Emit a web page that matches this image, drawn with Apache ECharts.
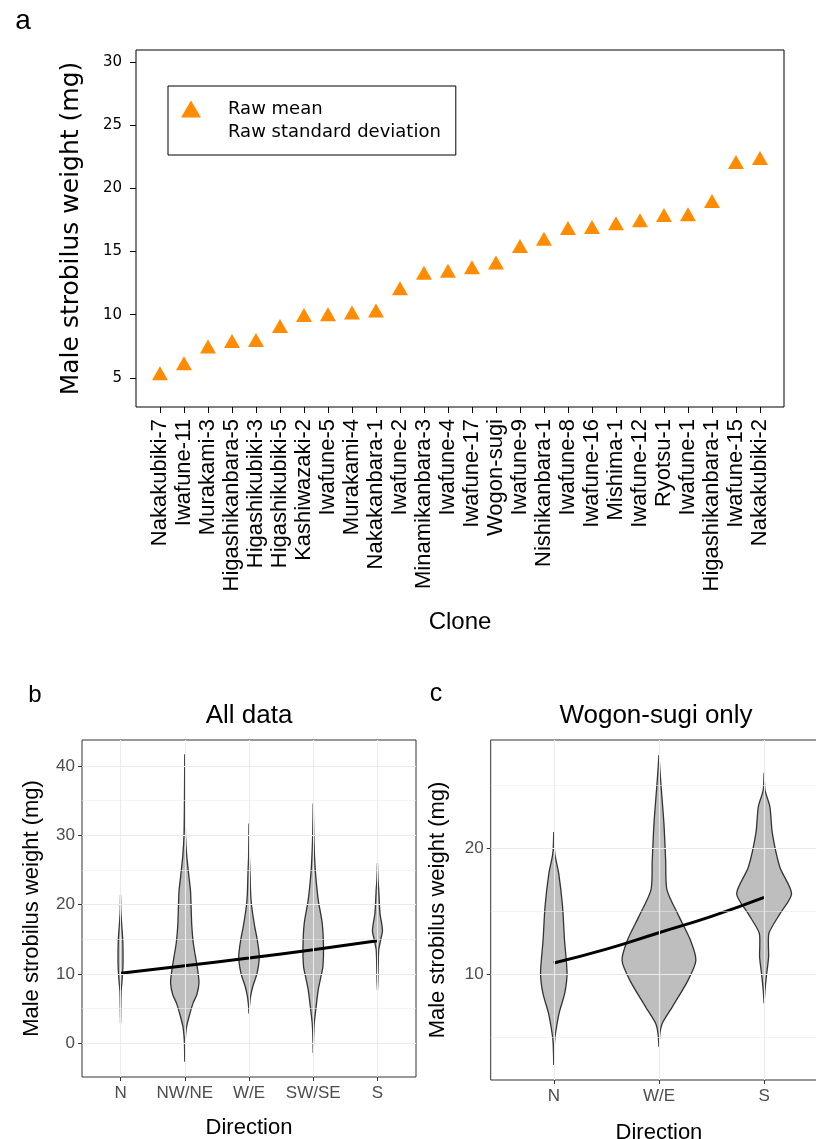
<!DOCTYPE html>
<html>
<head>
<meta charset="utf-8">
<script src="https://cdn.jsdelivr.net/npm/echarts@6/dist/echarts.min.js"></script>
<style>
    html, body { margin: 0; padding: 0; background: #fff; }
    #chart { width: 816px; height: 1139px; }
</style>
</head>
<body>
<div id="chart"></div>
<script>
// panel a: clone means
const cloneNames = ['Nakakubiki-7', 'Iwafune-11', 'Murakami-3', 'Higashikanbara-5', 'Higashikubiki-3',
    'Higashikubiki-5', 'Kashiwazaki-2', 'Iwafune-5', 'Murakami-4', 'Nakakanbara-1', 'Iwafune-2',
    'Minamikanbara-3', 'Iwafune-4', 'Iwafune-17', 'Wogon-sugi', 'Iwafune-9', 'Nishikanbara-1',
    'Iwafune-8', 'Iwafune-16', 'Mishima-1', 'Iwafune-12', 'Ryotsu-1', 'Iwafune-1',
    'Higashikanbara-1', 'Iwafune-15', 'Nakakubiki-2'];
const rawMean = [5.37, 6.16, 7.48, 7.93, 8.0, 9.11, 9.98, 10.04, 10.17, 10.33, 12.1, 13.33, 13.49,
    13.76, 14.13, 15.44, 16.02, 16.87, 16.95, 17.24, 17.48, 17.9, 17.95, 19.0, 22.09, 22.41];
const aTicks = [5, 10, 15, 20, 25, 30];

// panel b: all data, violin half widths [weight, half width in category units]
const dirAll = ['N', 'NW/NE', 'W/E', 'SW/SE', 'S'];
const violinAll = [
    [[21.4, 0], [19, 0.005], [17, 0.019], [15, 0.034], [13, 0.039], [11, 0.037], [9, 0.023], [7.5, 0.009], [6, 0.005], [2.9, 0]],
    [[41.7, 0], [35, 0.005], [30, 0.012], [27, 0.031], [24, 0.065], [22, 0.089], [19, 0.101], [17, 0.109], [14.5, 0.132],
        [12.5, 0.167], [10.5, 0.202], [8.7, 0.221], [7, 0.187], [5.8, 0.129], [3.8, 0.065], [2.5, 0.031], [1.5, 0.016], [0, 0.005], [-2.65, 0]],
    [[31.7, 0], [27, 0.006], [24.5, 0.016], [21.5, 0.026], [19.7, 0.042], [16.8, 0.09], [14.9, 0.129], [12.5, 0.16],
        [10.1, 0.125], [8.2, 0.059], [6.7, 0.023], [5.5, 0.008], [4.3, 0]],
    [[34.6, 0], [30.3, 0.008], [27, 0.02], [24.5, 0.036], [20.7, 0.078], [17.3, 0.14], [13.9, 0.16], [11.1, 0.151],
        [9.5, 0.117], [7.7, 0.078], [4.8, 0.039], [2.9, 0.016], [1, 0.006], [-1.4, 0]],
    [[26, 0], [23.5, 0.009], [22.1, 0.02], [18.8, 0.039], [16.3, 0.078], [14.9, 0.05], [13.5, 0.02], [11.1, 0.011], [9, 0.006], [7.7, 0]]
];
const trendAll = [[0, 10.1], [1, 11.2], [2, 12.3], [3, 13.5], [4, 14.8]];
const bMajor = [0, 10, 20, 30, 40];
const bMinor = [5, 15, 25, 35];

// panel c: Wogon-sugi only
const dirWogon = ['N', 'W/E', 'S'];
const violinWogon = [
    [[21.3, 0], [19.6, 0.009], [18, 0.047], [15.4, 0.083], [12.7, 0.102], [10.1, 0.126], [8.5, 0.104], [6.9, 0.05],
        [5.3, 0.016], [4.5, 0.006], [2.8, 0]],
    [[27.4, 0], [25.4, 0.016], [22, 0.047], [19, 0.064], [16.7, 0.076], [14.6, 0.19], [12.7, 0.3], [11.1, 0.351],
        [9.5, 0.275], [7.4, 0.126], [6.1, 0.031], [5.3, 0.009], [4.25, 0]],
    [[26, 0], [24.6, 0.009], [23.3, 0.055], [21.2, 0.078], [18.5, 0.15], [16.4, 0.261], [14.8, 0.15], [13.3, 0.047],
        [12.3, 0.041], [11.4, 0.043], [9.8, 0.021], [8.7, 0.008], [7.7, 0]]
];
const trendWogon = [[0, 10.9], [0.5, 12.0], [1, 13.3], [1.5, 14.6], [2, 16.1]];
const cMajor = [10, 20];
const cMinor = [5, 15, 25];

const chart = echarts.init(document.getElementById('chart'), null, {renderer: 'canvas'});

const sansA = 'DejaVu Sans';
const sansB = 'Liberation Sans, Arial, sans-serif';

function violinRender(profiles) {
    return function (params, api) {
        const idx = api.value(0);
        const prof = profiles[params.dataIndex];
        const pts = [];
        for (let i = 0; i < prof.length; i++) {
            pts.push(api.coord([idx + prof[i][1], prof[i][0]]));
        }
        for (let i = prof.length - 1; i >= 0; i--) {
            pts.push(api.coord([idx - prof[i][1], prof[i][0]]));
        }
        return {
            type: 'polygon',
            shape: {points: pts, smooth: 0.25},
            style: {fill: '#bebebe', stroke: '#333333', lineWidth: 1.3}
        };
    };
}

function gridLines(xi, major, minor, cats) {
    const data = [];
    major.forEach(v => data.push({yAxis: v, lineStyle: {width: 1.1}}));
    minor.forEach(v => data.push({yAxis: v, lineStyle: {width: 0.6}}));
    cats.forEach((c, i) => data.push({xAxis: i, lineStyle: {width: 1.1}}));
    return {
        type: 'scatter', xAxisIndex: xi, yAxisIndex: xi, data: [], silent: true, z: 1,
        markLine: {
            silent: true, symbol: ['none', 'none'], animation: false,
            label: {show: false},
            lineStyle: {color: '#ebebeb', type: 'solid'},
            data: data
        }
    };
}

function catAxisB(gi, cats) {
    return {
        type: 'value', gridIndex: gi, min: -0.6, max: cats.length - 0.4,
        name: 'Direction', nameLocation: 'middle', nameGap: gi === 1 ? 40 : 42,
        nameTextStyle: {fontFamily: sansB, fontSize: 22, color: '#000'},
        axisLine: {show: false, onZero: false},
        splitLine: {show: false},
        axisTick: {show: true, length: 4, customValues: cats.map((c, i) => i), lineStyle: {color: '#333'}},
        axisLabel: {
            customValues: cats.map((c, i) => i), margin: 8,
            fontFamily: sansB, fontSize: 17, color: '#4d4d4d',
            formatter: v => cats[Math.round(v)]
        }
    };
}

function valAxisB(gi, min, max, major, gap) {
    return {
        type: 'value', gridIndex: gi, min: min, max: max,
        name: 'Male strobilus weight (mg)', nameLocation: 'middle', nameGap: gap,
        nameTextStyle: {fontFamily: sansB, fontSize: 22, color: '#000'},
        axisLine: {show: false, onZero: false},
        splitLine: {show: false},
        axisTick: {show: true, length: 4, customValues: major, lineStyle: {color: '#333'}},
        axisLabel: {customValues: major, margin: 7, fontFamily: sansB, fontSize: 17, color: '#4d4d4d'}
    };
}

chart.setOption({
    animation: false,
    backgroundColor: '#fff',
    grid: [
        {left: 136, top: 50, width: 648, height: 357, show: true, borderColor: '#000', borderWidth: 1, outerBoundsMode: 'none'},
        {left: 82, top: 740, width: 334, height: 337, show: true, borderColor: '#333', borderWidth: 1, outerBoundsMode: 'none'},
        {left: 490.7, top: 740, width: 336.5, height: 340, show: true, borderColor: '#333', borderWidth: 1, outerBoundsMode: 'none'}
    ],
    legend: {
        left: 168, top: 86, orient: 'vertical',
        borderColor: '#000', borderWidth: 1, borderRadius: 0,
        padding: [13, 15, 13, 13], itemGap: 3,
        itemWidth: 20, itemHeight: 17,
        selectedMode: false,
        textStyle: {fontFamily: sansA, fontSize: 18, color: '#000', lineHeight: 20, padding: [0, 0, 0, 22]},
        data: [
            {name: 'Raw mean', icon: 'triangle'},
            {name: 'Raw standard deviation', icon: 'rect', itemStyle: {color: 'rgba(0,0,0,0)'}}
        ]
    },
    xAxis: [
        {
            type: 'value', gridIndex: 0, min: -1, max: cloneNames.length,
            name: 'Clone', nameLocation: 'middle', nameGap: 203,
            nameTextStyle: {fontFamily: sansB, fontSize: 24, color: '#000'},
            axisLine: {show: false, onZero: false},
            splitLine: {show: false},
            axisTick: {show: true, length: 6, customValues: cloneNames.map((c, i) => i), lineStyle: {color: '#000'}},
            axisLabel: {
                customValues: cloneNames.map((c, i) => i), rotate: 90, margin: 12,
                fontFamily: sansB, fontSize: 22, color: '#000',
                formatter: v => cloneNames[Math.round(v)]
            }
        },
        catAxisB(1, dirAll),
        catAxisB(2, dirWogon)
    ],
    yAxis: [
        {
            type: 'value', gridIndex: 0, min: 2.7, max: 30.95,
            name: 'Male strobilus weight (mg)', nameLocation: 'middle', nameGap: 52,
            nameTextStyle: {fontFamily: sansA, fontSize: 25, color: '#000'},
            axisLine: {show: false, onZero: false},
            splitLine: {show: false},
            axisTick: {show: true, length: 6, customValues: aTicks, lineStyle: {color: '#000'}},
            axisLabel: {customValues: aTicks, margin: 14, fontFamily: sansA, fontSize: 15, color: '#000'}
        },
        valAxisB(1, -4.86, 43.75, bMajor, 39),
        valAxisB(2, 1.61, 28.6, cMajor, 42)
    ],
    graphic: [
        {type: 'text', style: {x: 23, y: 21, text: 'a', fontFamily: sansB, fontSize: 28, fill: '#000', textAlign: 'center', textVerticalAlign: 'middle'}},
        {type: 'text', style: {x: 35, y: 695, text: 'b', fontFamily: sansB, fontSize: 24, fill: '#000', textAlign: 'center', textVerticalAlign: 'middle'}},
        {type: 'text', style: {x: 436, y: 694, text: 'c', fontFamily: sansB, fontSize: 25, fill: '#000', textAlign: 'center', textVerticalAlign: 'middle'}},
        {type: 'text', style: {x: 249, y: 716, text: 'All data', fontFamily: sansB, fontSize: 26, fill: '#000', textAlign: 'center', textVerticalAlign: 'middle'}},
        {type: 'text', style: {x: 656, y: 716, text: 'Wogon-sugi only', fontFamily: sansB, fontSize: 26, fill: '#000', textAlign: 'center', textVerticalAlign: 'middle'}}
    ],
    series: [
        {
            name: 'Raw mean', type: 'scatter', xAxisIndex: 0, yAxisIndex: 0,
            symbol: 'triangle', symbolSize: [16, 14],
            itemStyle: {color: '#ff8c00', opacity: 1},
            data: rawMean.map((v, i) => [i, v])
        },
        {
            name: 'Raw standard deviation', type: 'scatter', xAxisIndex: 0, yAxisIndex: 0,
            itemStyle: {color: 'rgba(0,0,0,0)'}, data: []
        },
        gridLines(1, bMajor, bMinor, dirAll),
        gridLines(2, cMajor, cMinor, dirWogon),
        {
            type: 'custom', xAxisIndex: 1, yAxisIndex: 1, z: 2, clip: true,
            renderItem: violinRender(violinAll),
            encode: {x: 0},
            data: dirAll.map((d, i) => [i])
        },
        {
            type: 'custom', xAxisIndex: 2, yAxisIndex: 2, z: 2, clip: true,
            renderItem: violinRender(violinWogon),
            encode: {x: 0},
            data: dirWogon.map((d, i) => [i])
        },
        {
            type: 'line', xAxisIndex: 1, yAxisIndex: 1, z: 3, smooth: true, symbol: 'none',
            lineStyle: {color: '#000', width: 3}, data: trendAll
        },
        {
            type: 'line', xAxisIndex: 2, yAxisIndex: 2, z: 3, smooth: true, symbol: 'none',
            lineStyle: {color: '#000', width: 3}, data: trendWogon
        }
    ]
});
</script>
</body>
</html>
